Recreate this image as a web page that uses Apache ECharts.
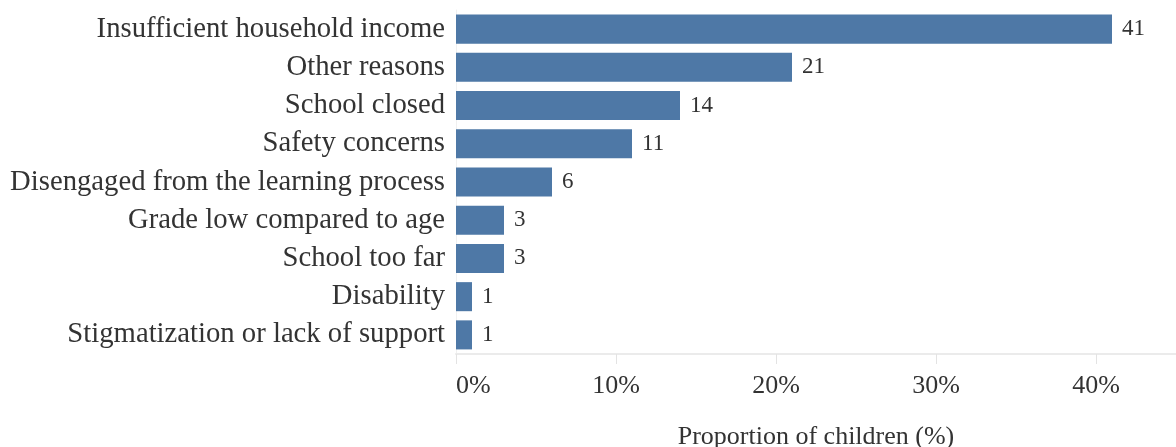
<!DOCTYPE html>
<html>
<head>
<meta charset="utf-8">
<script src="https://cdn.jsdelivr.net/npm/echarts@6/dist/echarts.min.js"></script>
<style>
  html, body { margin: 0; padding: 0; background: #fff; }
  #chart { width: 1176px; height: 447px; }
</style>
</head>
<body>
<div id="chart"></div>
<script>
// Reasons children are out of school, share of children (%)
const reasons = [
  'Insufficient household income',
  'Other reasons',
  'School closed',
  'Safety concerns',
  'Disengaged from the learning process',
  'Grade low compared to age',
  'School too far',
  'Disability',
  'Stigmatization or lack of support'
];
const shares = [41, 21, 14, 11, 6, 3, 3, 1, 1];
const xTicks = [0, 10, 20, 30, 40];

const serif = '"Liberation Serif", "DejaVu Serif", serif';
const chart = echarts.init(document.getElementById('chart'));

chart.setOption({
  animation: false,
  grid: { left: 456, right: 0, top: 10, bottom: 93, outerBoundsMode: 'none' },
  xAxis: {
    type: 'value',
    min: 0,
    max: 45,
    interval: 10,
    name: 'Proportion of children (%)',
    nameLocation: 'middle',
    nameGap: 70,
    nameTextStyle: { fontFamily: serif, fontSize: 26, color: '#333' },
    axisLine: { show: true, lineStyle: { color: '#ebebeb', width: 2 } },
    axisTick: { show: true, length: 10, lineStyle: { color: '#e3e3e3' },
      customValues: xTicks },
    splitLine: { show: false },
    axisLabel: {
      fontFamily: serif, fontSize: 26, color: '#333', margin: 19,
      customValues: xTicks,
      alignMinLabel: 'left',
      formatter: v => v + '%'
    }
  },
  yAxis: {
    type: 'category',
    inverse: true,
    data: reasons,
    axisLine: { show: true, lineStyle: { color: '#f0f0f0', width: 1 } },
    axisTick: { show: false },
    axisLabel: { fontFamily: serif, fontSize: 28.7, color: '#333', margin: 11 }
  },
  series: [{
    type: 'bar',
    data: shares,
    barCategoryGap: '24%',
    itemStyle: { color: '#4e78a6' },
    label: {
      show: true,
      position: 'right',
      distance: 10,
      fontFamily: serif,
      fontSize: 23,
      color: '#333'
    }
  }]
});
</script>
</body>
</html>
